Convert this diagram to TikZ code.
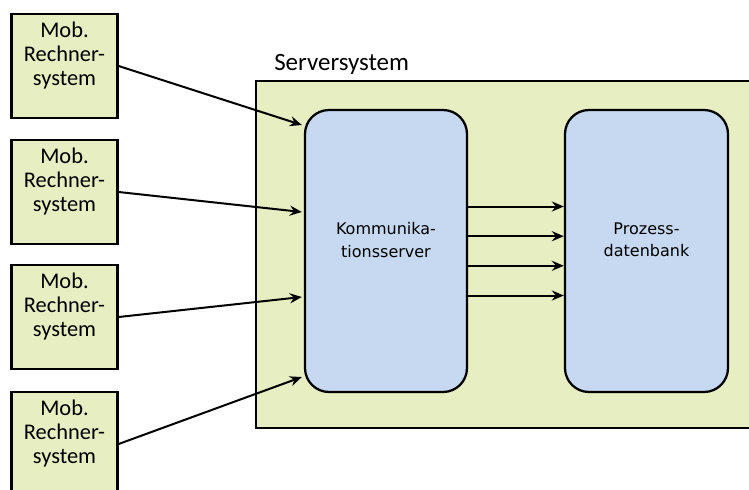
\documentclass[tikz,border=0pt]{standalone}
\usepackage{fontspec}
\setmainfont{Carlito}
\newfontfamily\innerfont{DejaVu Sans}
\usetikzlibrary{arrows.meta,calc}
\definecolor{boxgreen}{HTML}{E6EEC2}
\definecolor{boxblue}{HTML}{C6D9F1}

\begin{document}
\begin{tikzpicture}[x=0.75pt,y=-0.75pt,
  mobile/.style={draw=black, line width=1.7pt, fill=boxgreen,
    minimum width=79.5pt, minimum height=78pt, inner sep=0pt,
    align=center, font=\fontsize{16.8}{18.3}\selectfont},
  frame/.style={draw=black, line width=1.5pt, fill=boxgreen,
    minimum width=385.5pt, minimum height=260.25pt, inner sep=0pt},
  serverbox/.style={draw=black, line width=1.7pt, fill=boxblue,
    rounded corners=18pt, minimum width=121.5pt, minimum height=211.5pt,
    inner sep=0pt, align=center,
    font=\innerfont\fontsize{12}{16.8}\selectfont},
  link/.style={line width=1.5pt,
    -{Stealth[length=9pt,width=7.5pt,inset=3pt]}}]

\useasboundingbox (0,0) rectangle (749,489);
\clip (0,0) rectangle (749,489);

% server system frame (runs past the right edge)
\node[frame] (sys) at (513,254.5) {};
\node[anchor=base west, inner sep=0pt, font=\fontsize{18.7}{21}\selectfont]
  (syslabel) at (274,70) {Serversystem};

% mobile computer systems
\node[mobile] (m1) at (64.5,66)  {Mob.\\Rechner-\\system\\\mbox{}};
\node[mobile] (m2) at (64.5,192) {Mob.\\Rechner-\\system\\\mbox{}};
\node[mobile] (m3) at (64.5,317) {Mob.\\Rechner-\\system\\\mbox{}};
\node[mobile] (m4) at (64.5,444) {Mob.\\Rechner-\\system\\\mbox{}};

% communication server and process database
\node[serverbox] (ks) at (386,251)   {Kommunika-\\tionsserver\\\mbox{}};
\node[serverbox, minimum width=122.25pt] (pd) at (646.5,251) {Prozess-\\datenbank\\\mbox{}};

% links from the mobile systems
\draw[link] (m1.east) -- ($(ks.west)+(-2,-126)$);
\draw[link] (m2.east) -- ($(ks.west)+(-2,-39)$);
\draw[link] (m3.east) -- ($(ks.west)+(-2,46)$);
\draw[link] (m4.east) -- ($(ks.west)+(-2,126)$);

% links from the server to the database
\foreach \dy in {-44.5,-14.8,14.8,44.5}
  \draw[link] ($(ks.east)+(0,\dy)$) -- ($(pd.west)+(0,\dy)$);
\end{tikzpicture}
\end{document}
